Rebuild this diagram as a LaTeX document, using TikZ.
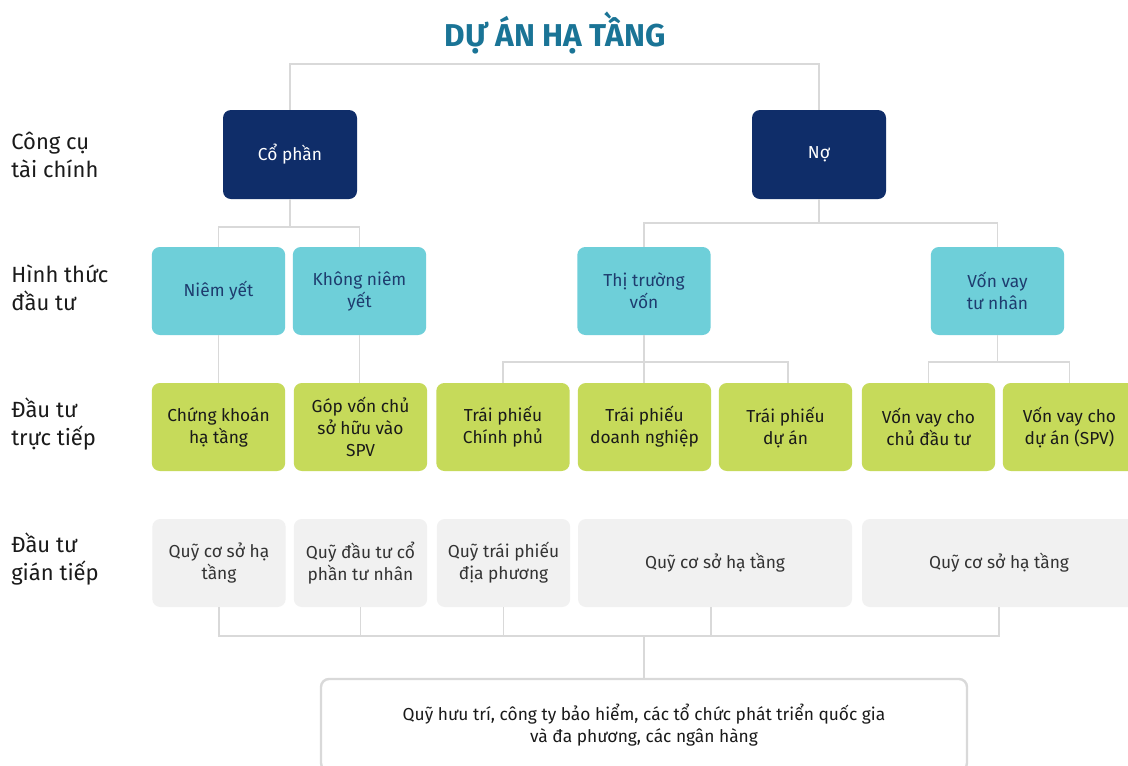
\documentclass[tikz,border=0pt]{standalone}
\usepackage{fontspec}
\setmainfont{Fira Sans}
\definecolor{navy}{HTML}{0F2D69}
\definecolor{cyanb}{HTML}{6ECFD9}
\definecolor{cyantext}{HTML}{1E3C6E}
\definecolor{greenb}{HTML}{C6DA5A}
\definecolor{grayb}{HTML}{F1F1F1}
\definecolor{titlec}{HTML}{1A7496}
\definecolor{linec}{HTML}{D9D9D9}
\definecolor{txt}{HTML}{1A1A1A}
\begin{document}
\begin{tikzpicture}[x=0.75pt,y=-0.75pt,
  box/.style={rounded corners=6pt, minimum width=100pt, minimum height=66pt, align=center, inner sep=2pt, font=\fontsize{13}{16.5}\selectfont},
  navybox/.style={box, fill=navy, text=white, minimum width=100.5pt, minimum height=66.75pt},
  cyanbox/.style={box, fill=cyanb, text=cyantext},
  greenbox/.style={box, fill=greenb, text=txt},
  graybox/.style={box, fill=grayb, text=black!80},
  widegray/.style={graybox, minimum width=205.5pt},
  conn/.style={draw=linec, line width=1.1pt},
  rowlabel/.style={anchor=west, align=left, text=txt, inner sep=0pt, font=\fontsize{16.5}{21}\selectfont},
  titlestyle/.style={text=titlec, font=\fontsize{23.7}{28}\selectfont\bfseries}
]
\useasboundingbox (0,0) rectangle (1128,765);
\clip (0,0) rectangle (1128,765);
\fill[white] (0,0) rectangle (1128,765);

% title
\node[titlestyle] (title) at (555,33) {DỰ ÁN HẠ TẦNG};

% row labels
\node[rowlabel] (l1) at (11,155) {Công cụ\\tài chính};
\node[rowlabel] (l2) at (11,288) {Hình thức\\đầu tư};
\node[rowlabel] (l3) at (11,424) {Đầu tư\\trực tiếp};
\node[rowlabel] (l4) at (11,559) {Đầu tư\\gián tiếp};

% row 1
\node[navybox] (cp) at (290,154.5) {Cổ phần};
\node[navybox] (no) at (819,154.5) {Nợ};

% row 2
\node[cyanbox] (ny) at (218.5,291) {Niêm yết};
\node[cyanbox] (kny) at (359.5,291) {Không niêm\\yết};
\node[cyanbox] (ttv) at (644,291) {Thị trường\\vốn};
\node[cyanbox] (vvtn) at (997.5,291) {Vốn vay\\tư nhân};

% row 3
\node[greenbox] (g1) at (218.5,427) {Chứng khoán\\hạ tầng};
\node[greenbox] (g2) at (360.5,427) {Góp vốn chủ\\sở hữu vào\\SPV};
\node[greenbox] (g3) at (503,427) {Trái phiếu\\Chính phủ};
\node[greenbox] (g4) at (644.5,427) {Trái phiếu\\doanh nghiệp};
\node[greenbox] (g5) at (785.5,427) {Trái phiếu\\dự án};
\node[greenbox] (g6) at (928.5,427) {Vốn vay cho\\chủ đầu tư};
\node[greenbox] (g7) at (1069.5,427) {Vốn vay cho\\dự án (SPV)};

% row 4
\node[graybox] (q1) at (219,563) {Quỹ cơ sở hạ\\tầng};
\node[graybox] (q2) at (360.5,563) {Quỹ đầu tư cổ\\phần tư nhân};
\node[graybox] (q3) at (503.5,563) {Quỹ trái phiếu\\địa phương};
\node[widegray] (q4) at (715,563) {Quỹ cơ sở hạ tầng};
\node[widegray] (q5) at (999,563) {Quỹ cơ sở hạ tầng};

% bottom
\node[draw=linec, line width=1.8pt, fill=white, rounded corners=6pt, minimum width=484.5pt, minimum height=69pt, align=center, text=txt, font=\fontsize{13}{16.5}\selectfont] (bot) at (644,725) {Quỹ hưu trí, công ty bảo hiểm, các tổ chức phát triển quốc gia\\và đa phương, các ngân hàng};

% connectors
\coordinate (jt) at (555,64);
\draw[conn] (cp.north) |- (jt) -| (no.north);

\coordinate (j1) at (290,227);
\draw[conn] (cp.south) -- (j1);
\draw[conn] (ny.north) |- (j1) -| (kny.north);

\coordinate (j2) at (819,223);
\draw[conn] (no.south) -- (j2);
\draw[conn] (ttv.north) |- (j2) -| (vvtn.north);

\draw[conn] (ny.south) -- (g1.north);
\draw[conn] (kny.south) -- (kny.south |- g2.north);

\coordinate (j3) at (644,362);
\draw[conn] (ttv.south) -- (j3);
\draw[conn] (g3.north) |- (j3) -| ([xshift=1.8pt]g5.north);
\draw[conn] (j3) -- (j3 |- g4.north);

\coordinate (j4) at (997.5,362);
\draw[conn] (vvtn.south) -- (j4);
\draw[conn] (g6.north) |- (j4) -| (g7.north);

\coordinate (j5) at (644,636);
\draw[conn] (q1.south) |- (j5);
\draw[conn] (q5.south) |- (j5);
\draw[conn] (q2.south) -- (q2.south |- j5);
\draw[conn] (q3.south) -- (q3.south |- j5);
\draw[conn] ([xshift=-3pt]q4.south) -- ([xshift=-3pt]q4.south |- j5);
\draw[conn] (j5) -- (bot.north);
\end{tikzpicture}
\end{document}
